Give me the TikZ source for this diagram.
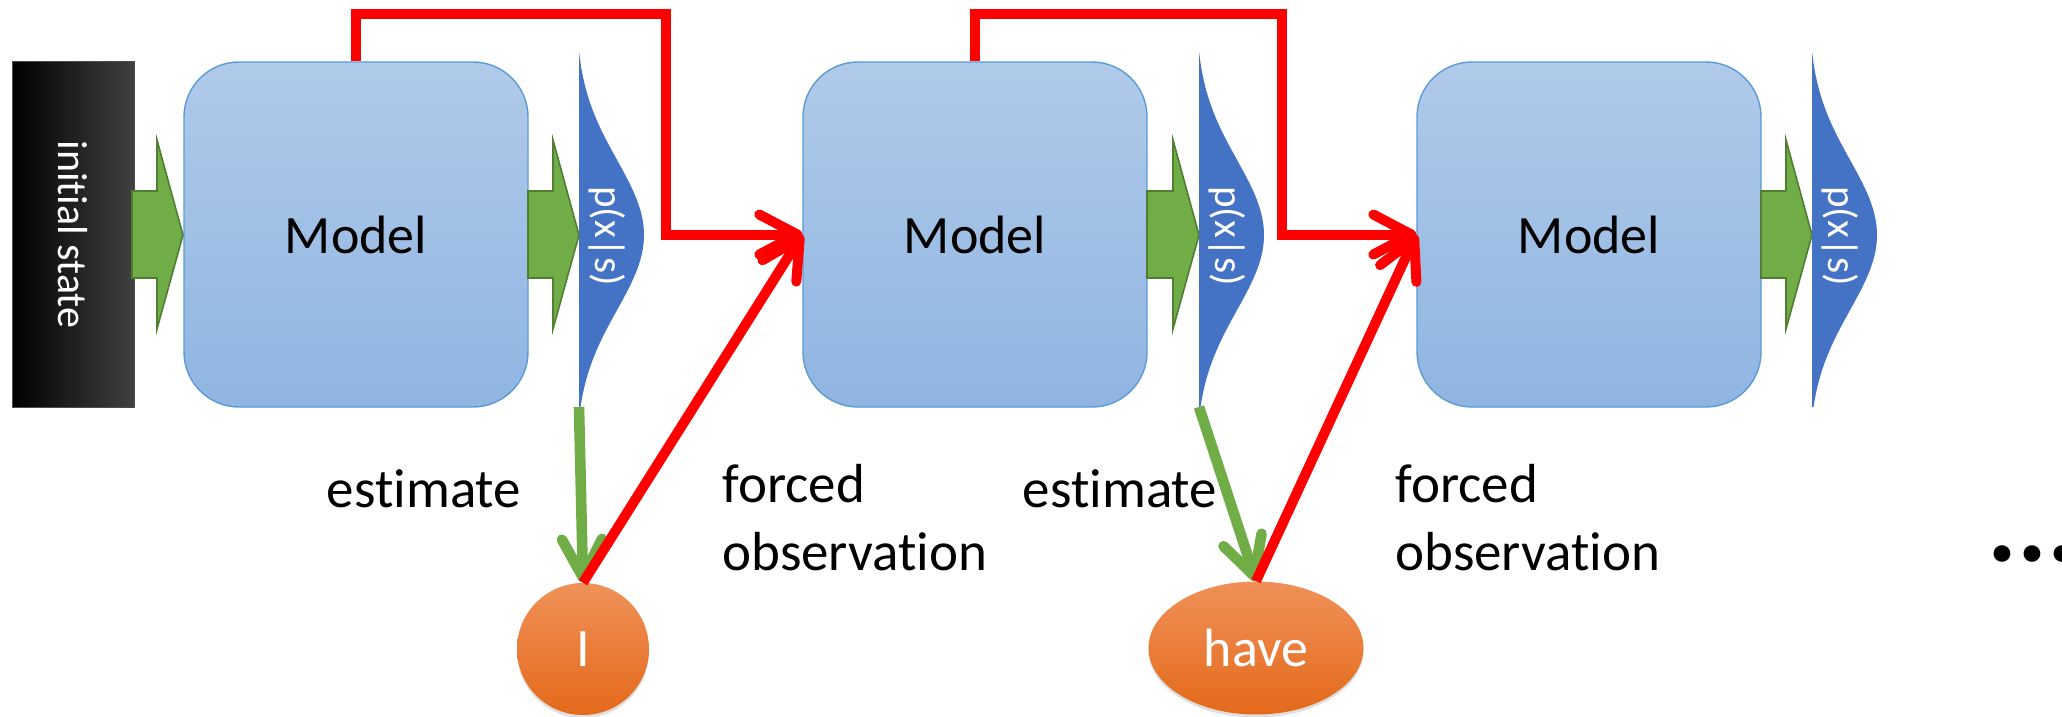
\documentclass[tikz,border=0pt]{standalone}
\usepackage{fontspec}
\usepackage{graphicx}
\setmainfont{Carlito}[Ligatures=NoCommon]
\usetikzlibrary{arrows.meta,shadows,shapes.geometric}
\definecolor{redline}{RGB}{255,0,0}
\definecolor{greenfill}{RGB}{112,173,71}
\definecolor{greenedge}{RGB}{80,126,50}
\definecolor{distblue}{RGB}{68,114,196}
\definecolor{boxtop}{RGB}{176,202,233}
\definecolor{boxbot}{RGB}{143,181,225}
\definecolor{boxedge}{RGB}{91,155,213}
\definecolor{orgtop}{RGB}{240,145,88}
\definecolor{orgmid}{RGB}{242,126,46}
\definecolor{orgbot}{RGB}{228,105,27}
\begin{document}
\begin{tikzpicture}[x=0.5pt,y=-0.5pt,
  modelbox/.style={draw=boxedge, line width=0.7pt, rounded corners=27.5pt,
    top color=boxtop, bottom color=boxbot, minimum width=172pt, minimum height=172.5pt,
    inner sep=0pt, font=\fontsize{27}{33}\selectfont},
  initbox/.style={draw=black!70, line width=0.5pt, left color=black, middle color=black,
    right color=black!75!white, minimum width=61pt, minimum height=172.5pt, inner sep=0pt,
    text=white, font=\fontsize{21}{25}\selectfont},
  disttext/.style={text=white, inner sep=0pt, font=\fontsize{20.5}{24}\selectfont},
  wordnode/.style={top color=orgtop, middle color=orgmid, bottom color=orgbot, inner sep=0pt,
    text=white, font=\fontsize{27}{33}\selectfont,
    drop shadow={shadow xshift=0pt, shadow yshift=-1.5pt, opacity=0.25}},
  lbl/.style={inner sep=0pt, font=\fontsize{27.5}{34}\selectfont},
  blockarrow/.style={fill=greenfill, draw=greenedge, line width=0.8pt, line join=miter},
  redconn/.style={draw=redline, line width=5pt,
    -{Straight Barb[length=19pt, width=20pt, round]}},
  greenconn/.style={draw=greenfill, line width=5.3pt,
    -{Straight Barb[length=19pt, width=20pt, round]}}
]
\useasboundingbox (0,0) rectangle (2062,717);
\fill[white] (0,0) rectangle (2062,717);

% initial state
\node[initbox] (init) at (73,234.5) {\rotatebox{-90}{initial state}};

% model boxes
\node[modelbox] (m1) at (356,234.5) {Model};
\node[modelbox] (m2) at (975,234.5) {Model};
\node[modelbox] (m3) at (1589,234.5) {Model};

% green block arrows
\foreach \a/\b/\c in {132/157/183, 528/553/579, 1147/1173/1199, 1761/1786/1812}{
  \draw[blockarrow] (\a,191) -- (\b,191) -- (\b,140) -- (\c,235) -- (\b,329) -- (\b,278) -- (\a,278) -- cycle;
}

% distributions
\foreach \xx/\nm in {579/1, 1199/2, 1812/3}{
  \fill[distblue] (\xx,52) -- plot[domain=52:407, samples=90, variable=\t]
    ({\xx+68.4*max(0,exp(-0.5*((\t-235)/75)^2)-0.05)}, {\t}) -- (\xx,407) -- cycle;
  \coordinate (d\nm b) at (\xx,407);
  \node[disttext] (p\nm) at (\xx+28,236) {\rotatebox{-90}{p(x|s)}};
}

% word nodes
\node[wordnode, circle, minimum size=66pt] (o1) at (583,649) {I};
\node[wordnode, ellipse, minimum width=107.5pt, minimum height=66.5pt] (o2) at (1256,648) {have};

% labels
\node[lbl, anchor=base] (est1) at (424,507) {estimate};
\node[lbl, anchor=base] (est2) at (1120,507) {estimate};
\node[lbl, anchor=base west] (fo1) at (722,502) {\begin{tabular}[t]{@{}l@{}}forced\\observation\end{tabular}};
\node[lbl, anchor=base west] (fo2) at (1395,502) {\begin{tabular}[t]{@{}l@{}}forced\\observation\end{tabular}};
\node[inner sep=0pt, anchor=base west, font=\bfseries\fontsize{56}{60}\selectfont] (dots) at (1987,561) {...};

% connectors
\draw[greenconn] (d1b) -- (o1.north);
\draw[greenconn] (d2b) -- (o2.north);
\draw[redconn] (m1.north) |- (666,14) |- (m2.west);
\draw[redconn] (o1.north) -- (m2.west);
\draw[redconn] (m2.north) |- (1282,14) |- (m3.west);
\draw[redconn] (o2.north) -- (m3.west);
\end{tikzpicture}
\end{document}
